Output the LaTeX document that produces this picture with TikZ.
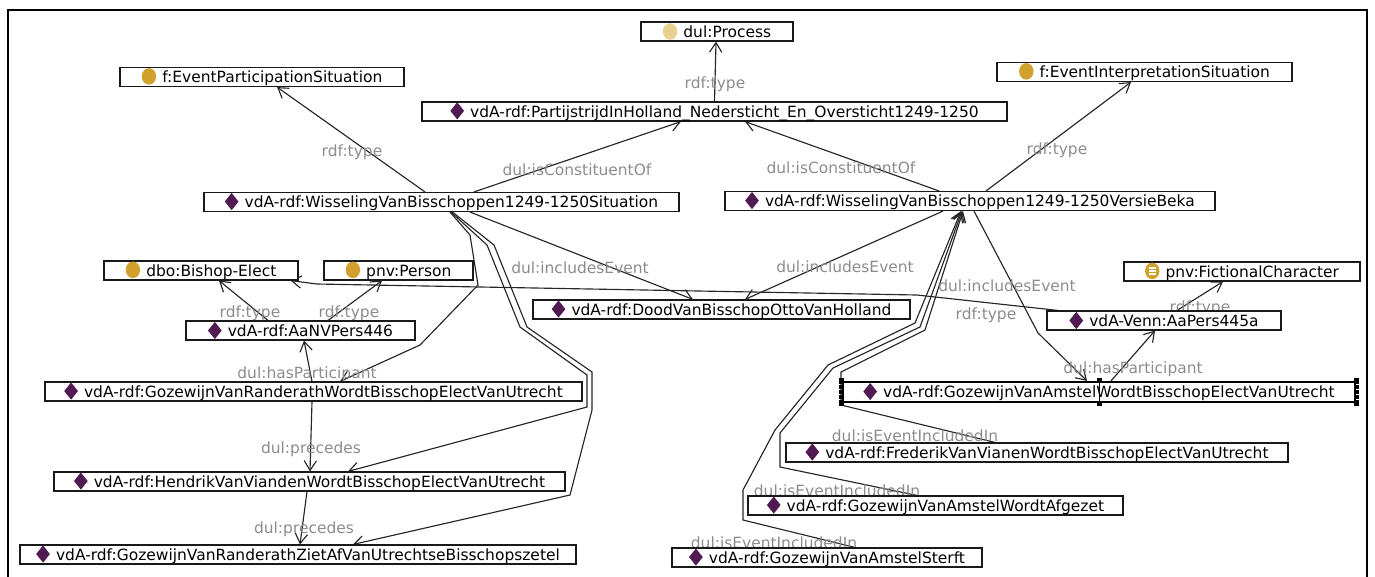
\documentclass[tikz,border=0pt]{standalone}
\usepackage{fontspec}
\setmainfont{DejaVu Sans}
\usetikzlibrary{arrows.meta}

\definecolor{indcol}{RGB}{82,26,82}
\definecolor{clscol}{RGB}{210,160,44}
\definecolor{palecol}{RGB}{232,208,144}
\definecolor{labcol}{RGB}{140,140,140}

\pgfdeclarelayer{bg}
\pgfsetlayers{bg,main}

\newcommand{\indiv}{\tikz[baseline=0pt]\fill[indcol] (0pt,3.6pt) -- (3.9pt,8.5pt) -- (7.8pt,3.6pt) -- (3.9pt,-1.3pt) -- cycle;\hspace{3.5pt}}
\newcommand{\klass}[1]{\tikz[baseline=0pt]\fill[#1] (4.1pt,3.6pt) ellipse[x radius=4.1pt,y radius=4.7pt];\hspace{3.5pt}}
\newcommand{\fictmark}{\tikz[baseline=0pt]{\fill[clscol] (4.1pt,3.6pt) ellipse[x radius=4.1pt,y radius=4.7pt];
	\draw[white,line width=0.8pt] (2.2pt,1.9pt) -- (6pt,1.9pt) (2.2pt,3.6pt) -- (6pt,3.6pt) (2.2pt,5.3pt) -- (6pt,5.3pt);}\hspace{3.5pt}}

\begin{document}
\begin{tikzpicture}[x=0.02cm, y=-0.02cm,
		every node/.style={font=\fontsize{8.8}{10}\selectfont},
		box/.style={draw=black!90, fill=white, line width=0.65pt, minimum height=0.38cm, inner sep=0pt},
		selbox/.style={box, draw=black, line width=1.3pt, minimum height=0.4cm},
		lab/.style={text=labcol, inner sep=0pt},
		link/.style={->, draw=black!85, line width=0.65pt},
		>={Straight Barb[length=5.5pt,width=7pt]}]
	\useasboundingbox (0,0) rectangle (1375,576);
	\draw[line width=0.7pt] (8,580) -- (8,10) -- (1367,10) -- (1367,580);

	\node[box, minimum width=3.04cm] (proc) at (717,31.5) {\klass{palecol}dul:Process};
	\node[box, minimum width=5.68cm] (eps) at (262,77) {\klass{clscol}f:EventParticipationSituation};
	\node[box, minimum width=5.9cm] (eis) at (1144.5,72) {\klass{clscol}f:EventInterpretationSituation};
	\node[box, minimum width=11.7cm] (part) at (714.5,111.5) {\indiv vdA-rdf:PartijstrijdInHolland\_Nedersticht\_En\_Oversticht1249-1250};
	\node[box, minimum width=9.5cm] (sit) at (441.5,202) {\indiv vdA-rdf:WisselingVanBisschoppen1249-1250Situation};
	\node[box, minimum width=9.8cm] (beka) at (970,201) {\indiv vdA-rdf:WisselingVanBisschoppen1249-1250VersieBeka};
	\node[box, minimum width=3.88cm] (bish) at (201,270.5) {\klass{clscol}dbo:Bishop-Elect};
	\node[box, minimum width=2.98cm] (pers) at (398.5,270.5) {\klass{clscol}pnv:Person};
	\node[box, minimum width=7.54cm] (dood) at (721.5,309.5) {\indiv vdA-rdf:DoodVanBisschopOttoVanHolland};
	\node[box, minimum width=4.72cm] (fict) at (1242,271.5) {\fictmark pnv:FictionalCharacter};
	\node[box, minimum width=4.58cm] (aanv) at (300.5,330.5) {\indiv vdA-rdf:AaNVPers446};
	\node[box, minimum width=4.68cm] (venn) at (1164,320.5) {\indiv vdA-Venn:AaPers445a};
	\node[box, minimum width=10.74cm] (grw) at (313.5,391.5) {\indiv vdA-rdf:GozewijnVanRanderathWordtBisschopElectVanUtrecht};
	\node[selbox, minimum width=10.24cm] (gam) at (1099,392) {\indiv vdA-rdf:GozewijnVanAmstelWordtBisschopElectVanUtrecht};
	\node[box, minimum width=10.04cm] (fred) at (1037,452.5) {\indiv vdA-rdf:FrederikVanVianenWordtBisschopElectVanUtrecht};
	\node[box, minimum width=10.22cm] (hend) at (309.5,481.5) {\indiv vdA-rdf:HendrikVanViandenWordtBisschopElectVanUtrecht};
	\node[box, minimum width=7.5cm] (afg) at (935.5,505.5) {\indiv vdA-rdf:GozewijnVanAmstelWordtAfgezet};
	\node[box, minimum width=11.12cm] (ziet) at (298,554.5) {\indiv vdA-rdf:GozewijnVanRanderathZietAfVanUtrechtseBisschopszetel};
	\node[box, minimum width=6.2cm] (sterft) at (827,557.5) {\indiv vdA-rdf:GozewijnVanAmstelSterft};

	\draw[line width=0.5pt] (gam.north) -- (gam.south);
	\foreach \a in {north west,north,north east,south east,south,south west}
		\fill ([shift={(-2.5,-2.5)}]gam.\a) rectangle +(5,5);
	\foreach \d in {-10,-5,0,5,10} {
		\fill ([shift={(-2.5,\d-2)}]gam.west) rectangle +(5,4);
		\fill ([shift={(-2.5,\d-2)}]gam.east) rectangle +(5,4);
	}

	\begin{pgfonlayer}{bg}
	\draw[link] (part.north) -- ([shift={(-1,0)}]proc.south);
	\draw[link] ([shift={(-16.5,0)}]sit.north) -- ([shift={(15,0)}]eps.south);
	\draw[link] ([shift={(32.5,0)}]sit.north) -- ([shift={(-33.5,0)}]part.south);
	\draw[link] ([shift={(-31,0)}]beka.north) -- ([shift={(30.5,0)}]part.south);
	\draw[link] ([shift={(16,0)}]beka.north) -- ([shift={(-13.5,0)}]eis.south);
	\draw[link] ([shift={(28.5,0)}]sit.south) -- ([shift={(-28.5,0)}]dood.north);
	\draw[link] ([shift={(-27,0)}]beka.south) -- ([shift={(23.5,0)}]dood.north);
	\draw[link] ([shift={(4,0)}]beka.south) -- (1038,333) -- ([shift={(-12,0)}]gam.north);
	\draw[link] ([shift={(-106,0)}]venn.north) -- (917,295) -- (317,284) -- ([shift={(-8,0)}]bish.south east);
	\draw[link] ([shift={(-32.5,0)}]aanv.north) -- ([shift={(18,0)}]bish.south);
	\draw[link] ([shift={(27.5,0)}]aanv.north) -- ([shift={(-16.5,0)}]pers.south);
	\draw[link] ([shift={(-1.5,0)}]grw.north) -- ([shift={(3.5,0)}]aanv.south);
	\draw[link] ([shift={(8.5,0)}]sit.south) -- (470,235) -- (478,285) -- (420,345) -- ([shift={(26.5,0)}]grw.north);
	\draw[link] ([shift={(9.5,0)}]sit.south) -- (487,245) -- (520,327) -- (587,375) -- (587,407) -- ([shift={(38.5,0)}]hend.north);
	\draw[link] ([shift={(11,0)}]sit.south) -- (494,245) -- (527,327) -- (592,372) -- (592,410) -- (570,495) -- ([shift={(55,0)}]ziet.north);
	\draw[link] ([shift={(-1.5,0)}]grw.south) -- ([shift={(0.5,0)}]hend.north);
	\draw[link] ([shift={(-2.5,0)}]hend.south) -- ([shift={(2,0)}]ziet.north);
	\draw[link] ([shift={(12,0)}]gam.north) -- ([shift={(-9,0)}]venn.south);
	\draw[link] ([shift={(13,0)}]venn.north) -- ([shift={(-19,0)}]fict.south);
	\draw[link] ([shift={(-42,0)}]fred.north) -- (841,405) -- (841,372) -- (925,330) -- ([shift={(-7,0)}]beka.south);
	\draw[link] ([shift={(-18.5,0)}]afg.north) -- (780,467) -- (780,433) -- (833,368) -- (920,327) -- ([shift={(-8,0)}]beka.south);
	\draw[link] ([shift={(28,0)}]sterft.north) -- (743,520) -- (743,490) -- (775,430) -- (828,365) -- (915,323) -- ([shift={(-9,0)}]beka.south);

	\node[lab] (t1) at (715,84) {rdf:type};
	\node[lab] (t2) at (352,152) {rdf:type};
	\node[lab] (c1) at (577,170) {dul:isConstituentOf};
	\node[lab] (c2) at (841,168) {dul:isConstituentOf};
	\node[lab] (t3) at (1057,150) {rdf:type};
	\node[lab] (e1) at (580,268) {dul:includesEvent};
	\node[lab] (e2) at (845,267) {dul:includesEvent};
	\node[lab] (e3) at (1007,286) {dul:includesEvent};
	\node[lab] (t4) at (986,315) {rdf:type};
	\node[lab] (t5) at (250,313) {rdf:type};
	\node[lab] (t6) at (349,313) {rdf:type};
	\node[lab] (h1) at (307,374) {dul:hasParticipant};
	\node[lab] (p1) at (311,449) {dul:precedes};
	\node[lab] (p2) at (304,529) {dul:precedes};
	\node[lab] (h2) at (1133,369) {dul:hasParticipant};
	\node[lab] (t7) at (1200,308) {rdf:type};
	\node[lab] (i1) at (915,436) {dul:isEventIncludedIn};
	\node[lab] (i2) at (837,491) {dul:isEventIncludedIn};
	\node[lab] (i3) at (774,543) {dul:isEventIncludedIn};
	\end{pgfonlayer}
\end{tikzpicture}
\end{document}
